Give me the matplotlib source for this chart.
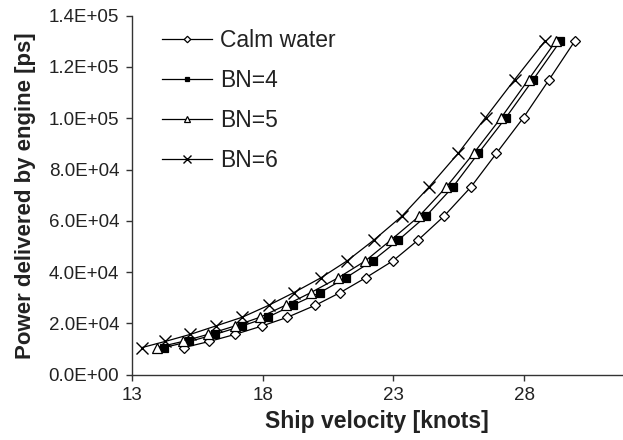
import matplotlib
matplotlib.use('Agg')
import matplotlib.pyplot as plt

plt.rcParams['font.family'] = ['Liberation Sans', 'DejaVu Sans']

# Potencia entregada por el motor (ps), misma para cada serie
potencia = [10600, 12950, 15700, 19000, 22400, 27100, 32000, 37800,
            44400, 52500, 61700, 73200, 86300, 100300, 115100, 130000]

# Velocidad del buque (nudos) por condicion de mar
v_calma = [15.0, 15.96, 16.94, 17.98, 18.95, 20.02, 20.96, 21.94,
           22.98, 23.94, 24.92, 25.96, 26.93, 27.97, 28.95, 29.92]
v_bn4 = [14.24, 15.20, 16.18, 17.22, 18.19, 19.15, 20.19, 21.18,
         22.20, 23.19, 24.23, 25.27, 26.24, 27.30, 28.34, 29.37]
v_bn5 = [13.95, 14.95, 15.90, 16.94, 17.90, 18.88, 19.84, 20.89,
         21.93, 22.90, 23.97, 25.02, 26.06, 27.12, 28.16, 29.20]
v_bn6 = [13.40, 14.27, 15.23, 16.21, 17.22, 18.24, 19.19, 20.23,
         21.23, 22.25, 23.31, 24.36, 25.47, 26.52, 27.63, 28.78]

etiquetas = ['Calm water', 'BN=4', 'BN=5', 'BN=6']
marcadores = ['D', 's', '^', 'x']
x_ticks = [13, 18, 23, 28]
y_ticks = [0, 20000, 40000, 60000, 80000, 100000, 120000, 140000]
y_tick_labels = ['0.0E+00', '2.0E+04', '4.0E+04', '6.0E+04',
                 '8.0E+04', '1.0E+05', '1.2E+05', '1.4E+05']

fig = plt.figure(figsize=(6.23, 4.4), dpi=100)
ax = fig.add_axes([0.2114, 0.1484, 0.7886, 0.8159])

series = [v_calma, v_bn4, v_bn5, v_bn6]
estilos = [
    dict(ms=5.5, mfc='white', mew=0.9),
    dict(ms=6, mfc='black', mew=0.9),
    dict(ms=7, mfc='white', mew=0.9),
    dict(ms=8.5, mew=1.0),
]
for vel, etq, mk, est in zip(series, etiquetas, marcadores, estilos):
    ax.plot(vel, potencia, color='black', lw=0.9, marker=mk,
            mec='black', label=etq, **est)

ax.set_xlim(13, 31.77)
ax.set_ylim(0, 140000)
ax.set_xticks(x_ticks)
ax.set_yticks(y_ticks)
ax.set_yticklabels(y_tick_labels)
ax.tick_params(axis='both', labelsize=13.5, length=4.5, width=1.0,
               color='#333333', labelcolor='#222222', direction='out')
ax.tick_params(axis='y', pad=4.5)
ax.tick_params(axis='x', pad=4)

for lado in ['top', 'right']:
    ax.spines[lado].set_visible(False)
for lado in ['left', 'bottom']:
    ax.spines[lado].set_color('#333333')
    ax.spines[lado].set_linewidth(1.0)

ax.set_xlabel('Ship velocity [knots]', fontsize=16.5, fontweight='bold',
              color='#222222', labelpad=5)
ax.set_ylabel('Power delivered by engine [ps]', fontsize=16, fontweight='bold',
              color='#222222', labelpad=9)

ax.legend(loc='upper left', bbox_to_anchor=(0.03, 1.008), frameon=False,
          fontsize=16.5, markerscale=0.6, handlelength=2.18, handletextpad=0.34,
          labelspacing=0.74, borderaxespad=0.3, labelcolor='#222222')

fig.savefig('out.png', dpi=100)
